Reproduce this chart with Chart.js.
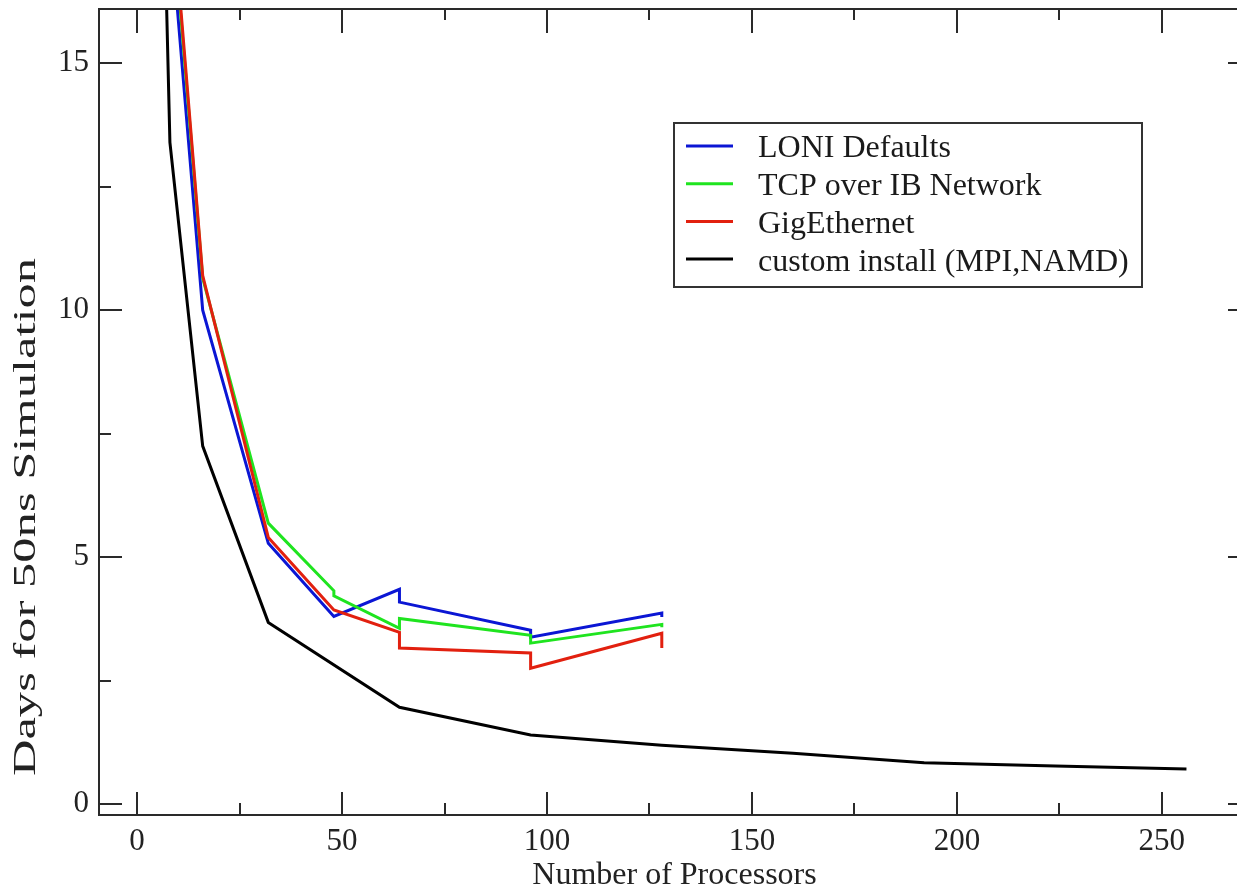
<!DOCTYPE html>
<html>
<head>
<meta charset="utf-8">
<script src="https://cdn.jsdelivr.net/npm/chart.js@4.4.1/dist/chart.umd.min.js"></script>
<style>
  body { margin: 0; background: #fff; overflow: hidden; }
</style>
</head>
<body>
<canvas id="scaling" width="1262" height="888"></canvas>
<script>
// processors vs days for a 50ns run
const loniX = [8, 16, 32, 48, 64, 64, 96, 96, 128, 128];
const loniY = [17.9, 10.0, 5.28, 3.8, 4.35, 4.09, 3.52, 3.38, 3.87, 3.79];

const tcpX = [8, 16, 32, 48, 48, 64, 64, 96, 96, 128, 128];
const tcpY = [18.6, 10.65, 5.69, 4.32, 4.22, 3.56, 3.76, 3.42, 3.26, 3.64, 3.58];

const gigX = [8, 16, 32, 48, 64, 64, 96, 96, 128, 128];
const gigY = [18.8, 10.7, 5.4, 3.93, 3.48, 3.16, 3.06, 2.75, 3.46, 3.16];

const customX = [4, 8, 16, 32, 64, 96, 128, 160, 192, 224, 256];
const customY = [27, 13.4, 7.25, 3.68, 1.96, 1.4, 1.19, 1.03, 0.84, 0.77, 0.71];

const seriesNames = ["LONI Defaults", "TCP over IB Network", "GigEthernet", "custom install (MPI,NAMD)"];
const seriesColors = ["#0b16d4", "#1fe41f", "#e2200f", "#000000"];

const xTicks = [0, 50, 100, 150, 200, 250];
const xMinor = [25, 75, 125, 175, 225];
const yTicks = [0, 5, 10, 15];
const yMinor = [2.5, 7.5, 12.5];

const FONT = "'Liberation Serif', 'DejaVu Serif', serif";

function pts(xs, ys) {
  return xs.map((x, i) => ({x: x, y: ys[i]}));
}

const allX = [loniX, tcpX, gigX, customX];
const allY = [loniY, tcpY, gigY, customY];
const drawOrder = [2, 1, 0, 3];

// inward ticks, top border, y title and the boxed legend
const frame = {
  id: "frame",
  afterDatasetsDraw(chart) {
    const ctx = chart.ctx;
    const a = chart.chartArea;
    const xs = chart.scales.x, ys = chart.scales.y;
    ctx.save();
    ctx.strokeStyle = "#2a2a2a";
    ctx.lineWidth = 2;
    ctx.beginPath();
    ctx.moveTo(a.left, a.top);
    ctx.lineTo(a.right, a.top);
    ctx.lineTo(a.right, a.bottom);
    xTicks.forEach(v => {
      const p = Math.round(xs.getPixelForValue(v));
      ctx.moveTo(p, a.bottom); ctx.lineTo(p, a.bottom - 23);
      ctx.moveTo(p, a.top); ctx.lineTo(p, a.top + 24);
    });
    xMinor.forEach(v => {
      const p = Math.round(xs.getPixelForValue(v));
      ctx.moveTo(p, a.bottom); ctx.lineTo(p, a.bottom - 12);
      ctx.moveTo(p, a.top); ctx.lineTo(p, a.top + 11);
    });
    yTicks.forEach(v => {
      const p = Math.round(ys.getPixelForValue(v));
      ctx.moveTo(a.left, p); ctx.lineTo(a.left + 23, p);
      ctx.moveTo(a.right - 22, p); ctx.lineTo(a.right, p);
    });
    yMinor.forEach(v => {
      const p = Math.round(ys.getPixelForValue(v));
      ctx.moveTo(a.left, p); ctx.lineTo(a.left + 12, p);
      ctx.moveTo(a.right - 11, p); ctx.lineTo(a.right, p);
    });
    ctx.stroke();

    // y title, stretched along its length like the original
    ctx.save();
    ctx.translate(27, 517);
    ctx.rotate(-Math.PI / 2);
    ctx.scale(1.58, 1);
    ctx.font = "32px " + FONT;
    ctx.fillStyle = "#222";
    ctx.textAlign = "center";
    ctx.textBaseline = "middle";
    ctx.fillText("Days for 50ns Simulation", 0, 0);
    ctx.restore();

    // legend
    ctx.fillStyle = "#fff";
    ctx.fillRect(674, 123, 468, 164);
    ctx.strokeStyle = "#333";
    ctx.strokeRect(674, 123, 468, 164);
    ctx.font = "32px " + FONT;
    ctx.textBaseline = "middle";
    seriesNames.forEach((name, i) => {
      const y = 146 + i * 37.7;
      ctx.strokeStyle = seriesColors[i];
      ctx.lineWidth = 3;
      ctx.beginPath();
      ctx.moveTo(686, y); ctx.lineTo(733, y);
      ctx.stroke();
      ctx.fillStyle = "#1a1a1a";
      ctx.fillText(name, 758, y + 3);
    });
    ctx.restore();
  }
};

new Chart(document.getElementById("scaling"), {
  type: "line",
  data: {
    datasets: seriesNames.map((name, i) => ({
      label: name,
      data: pts(allX[i], allY[i]),
      borderColor: seriesColors[i],
      borderWidth: 3,
      pointRadius: 0,
      tension: 0,
      fill: false,
      borderJoinStyle: "miter",
      order: drawOrder[i]
    }))
  },
  options: {
    responsive: false,
    animation: false,
    devicePixelRatio: 1,
    layout: { padding: { top: 9, right: 12, left: 0, bottom: 0 } },
    plugins: { legend: { display: false }, tooltip: { enabled: false } },
    scales: {
      x: {
        type: "linear",
        min: -9.3,
        max: 271.5,
        afterFit: s => { s.height = 73; s.paddingLeft = 0; s.paddingRight = 0; },
        afterBuildTicks: s => { s.ticks = xTicks.map(v => ({value: v})); },
        grid: { display: false, drawTicks: false },
        border: { display: true, color: "#2a2a2a", width: 2 },
        ticks: { color: "#222", font: { family: FONT, size: 31 }, padding: 8, maxRotation: 0 },
        title: { display: true, text: "Number of Processors", color: "#222",
                 font: { family: FONT, size: 32 }, padding: { top: 0, bottom: -7 } }
      },
      y: {
        type: "linear",
        min: -0.22,
        max: 16.1,
        afterFit: s => { s.width = 99; s.paddingTop = 0; s.paddingBottom = 0; },
        afterBuildTicks: s => { s.ticks = yTicks.map(v => ({value: v})); },
        grid: { display: false, drawTicks: false },
        border: { display: true, color: "#2a2a2a", width: 2 },
        ticks: { color: "#222", font: { family: FONT, size: 31 }, padding: 10 },
        title: { display: false }
      }
    }
  },
  plugins: [frame]
});
</script>
</body>
</html>
